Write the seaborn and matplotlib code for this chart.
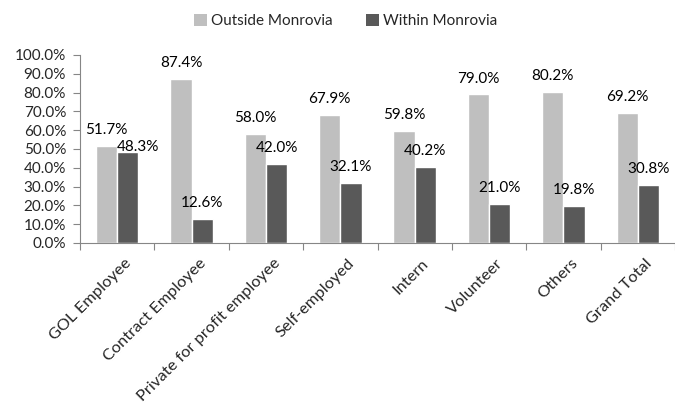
import matplotlib
matplotlib.use("Agg")
import matplotlib.pyplot as plt
import matplotlib.ticker as mticker
from matplotlib.patches import Patch
from matplotlib.transforms import ScaledTranslation
import pandas as pd
import seaborn as sns

categories = ["GOL Employee", "Contract Employee", "Private for profit employee",
              "Self-employed", "Intern", "Volunteer", "Others", "Grand Total"]
outside = [51.7, 87.4, 58.0, 67.9, 59.8, 79.0, 80.2, 69.2]
within = [48.3, 12.6, 42.0, 32.1, 40.2, 21.0, 19.8, 30.8]
series = ["Outside Monrovia", "Within Monrovia"]
colors = ["#bfbfbf", "#595959"]

df = pd.DataFrame({
    "category": categories * 2,
    "series": [series[0]] * len(categories) + [series[1]] * len(categories),
    "value": outside + within,
})

sns.set_theme(style="white")
plt.rcParams["font.family"] = ["Lato", "DejaVu Sans"]

fig = plt.figure(figsize=(6.75, 4.04), dpi=100)
ax = fig.add_axes([80 / 675, 1 - 243 / 404, 1 - 80 / 675, (243 - 55) / 404])

sns.barplot(data=df, x="category", y="value", hue="series", hue_order=series,
            order=categories, palette=colors, width=0.57, saturation=1,
            legend=False, ax=ax)

ax.set_ylim(0, 100)
ax.set_xlim(-0.5, len(categories) - 0.5)
ax.yaxis.set_major_locator(mticker.MultipleLocator(10))
ax.yaxis.set_major_formatter(mticker.FuncFormatter(lambda v, p: f"{v:.1f}%"))
ax.set_xlabel("")
ax.set_ylabel("")

# category ticks sit between groups; labels at group centres
ax.set_xticks([i - 0.5 for i in range(len(categories) + 1)])
ax.set_xticklabels([])
ax.set_xticks(range(len(categories)), minor=True)
ax.set_xticklabels(categories, minor=True, rotation=45, ha="right",
                   rotation_mode="anchor", fontsize=11.8)
ax.tick_params(axis="x", which="minor", length=0, pad=8)
ax.tick_params(axis="x", which="major", length=5, width=0.8, color="#868686",
               direction="out")
ax.tick_params(axis="y", length=5, width=0.8, color="#868686", direction="out",
               labelsize=11, pad=5)
ax.tick_params(axis="both", bottom=True, left=True, which="both")
shift = ScaledTranslation(7 / 100, -2 / 100, fig.dpi_scale_trans)
for lab in ax.get_xticklabels(minor=True):
    lab.set_transform(lab.get_transform() + shift)
for side in ("top", "right"):
    ax.spines[side].set_visible(False)
for side in ("left", "bottom"):
    ax.spines[side].set_color("#868686")
    ax.spines[side].set_linewidth(0.8)

# value labels above each bar
for container, vals in zip(ax.containers, [outside, within]):
    for bar, v in zip(container, vals):
        cx = bar.get_x() + bar.get_width() / 2
        dx, dy = 0, 11.5
        if v == 48.3:
            dx, dy = 7.5, 3.6
        ax.annotate(f"{v:.1f}%", (cx, v), xytext=(dx, dy), textcoords="offset points",
                    ha="center", va="center", fontsize=11, color="black")

handles = [Patch(facecolor=c, edgecolor="none") for c in colors]
fig.legend(handles, series, loc="center", bbox_to_anchor=(346 / 675, 1 - 21 / 404),
           ncol=2, frameon=False, fontsize=11, handlelength=0.8, handleheight=0.8,
           handletextpad=0.3, columnspacing=2.2)

fig.savefig("out.png", dpi=100)
